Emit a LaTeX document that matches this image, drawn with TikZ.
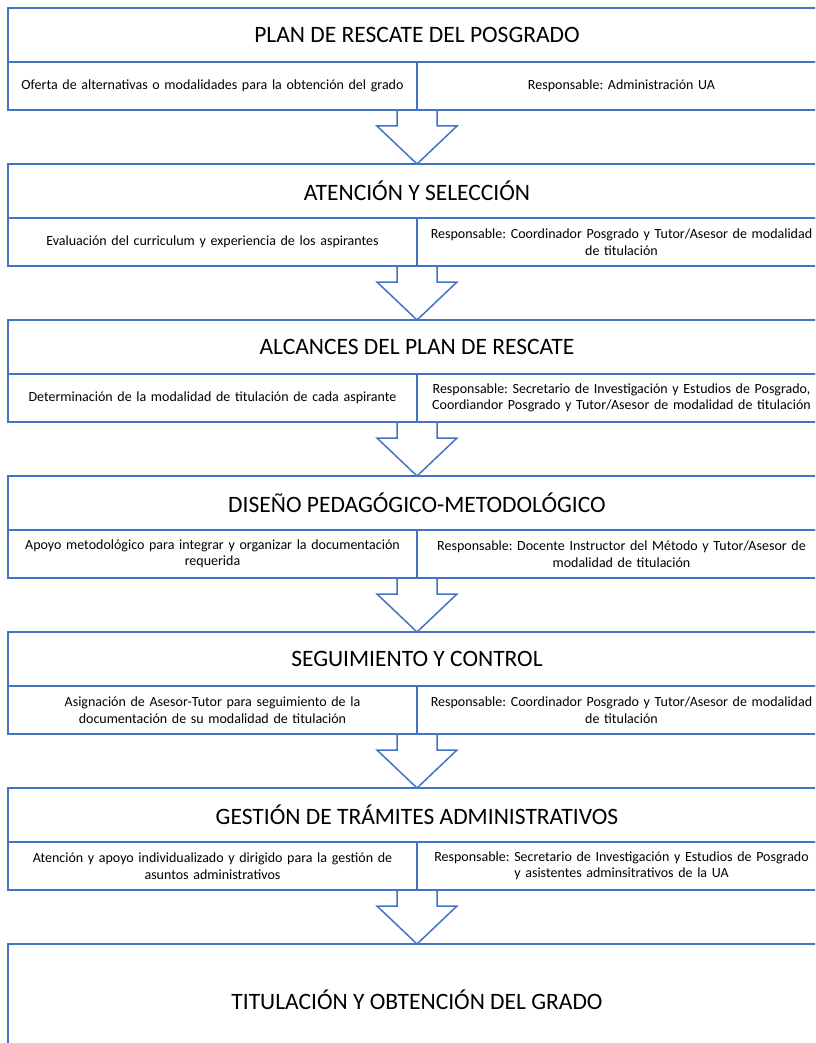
\documentclass[tikz,border=0pt]{standalone}
\usepackage{fontspec}
\setmainfont{Carlito}
\frenchspacing
\usetikzlibrary{calc}
\definecolor{flujo}{HTML}{4472C4}

\begin{document}
\begin{tikzpicture}[x=1pt,y=1pt,
  titulo/.style={rectangle,draw=flujo,line width=1.5pt,outer sep=0pt,inner sep=0pt,
    minimum width=818pt,minimum height=54pt,anchor=north west,
    font=\fontsize{23.5}{28}\selectfont},
  celda/.style={rectangle,draw=flujo,line width=1.5pt,outer sep=0pt,inner sep=0pt,
    minimum width=409pt,minimum height=48pt,text width=396pt,align=center,
    anchor=north west,font=\fontsize{14}{16.5}\selectfont},
  flecha/.style={draw=flujo,line width=1.5pt,line join=miter}]
\clip (0,0) rectangle (815,-1043);

% plan de rescate
\node[titulo] (t1) at (8,-8) {PLAN DE RESCATE DEL POSGRADO};
\node[celda] (l1) at (t1.south west) {Oferta de alternativas o modalidades para la obtención del grado};
\node[celda] (r1) at (l1.north east) {Responsable: Administración UA};

% atencion y seleccion
\node[titulo] (t2) at (8,-164) {ATENCIÓN Y SELECCIÓN};
\node[celda] (l2) at (t2.south west) {Evaluación del curriculum y experiencia de los aspirantes};
\node[celda] (r2) at (l2.north east) {Responsable: Coordinador Posgrado y Tutor/Asesor de modalidad\\ de titulación};

% alcances
\node[titulo] (t3) at (8,-320) {ALCANCES DEL PLAN DE RESCATE};
\node[celda] (l3) at (t3.south west) {Determinación de la modalidad de titulación de cada aspirante};
\node[celda] (r3) at (l3.north east) {Responsable: Secretario de Investigación y Estudios de Posgrado,\\ Coordiandor Posgrado y Tutor/Asesor de modalidad de titulación};

% diseño
\node[titulo] (t4) at (8,-476) {DISEÑO PEDAGÓGICO-METODOLÓGICO};
\node[celda] (l4) at (t4.south west) {Apoyo metodológico para integrar y organizar la documentación\\ requerida};
\node[celda] (r4) at (l4.north east) {Responsable: Docente Instructor del Método y Tutor/Asesor de\\ modalidad de titulación};

% seguimiento
\node[titulo] (t5) at (8,-632) {SEGUIMIENTO Y CONTROL};
\node[celda] (l5) at (t5.south west) {Asignación de Asesor-Tutor para seguimiento de la\\ documentación de su modalidad de titulación};
\node[celda] (r5) at (l5.north east) {Responsable: Coordinador Posgrado y Tutor/Asesor de modalidad\\ de titulación};

% tramites
\node[titulo] (t6) at (8,-788) {GESTIÓN DE TRÁMITES ADMINISTRATIVOS};
\node[celda] (l6) at (t6.south west) {Atención y apoyo individualizado y dirigido para la gestión de\\ asuntos administrativos};
\node[celda] (r6) at (l6.north east) {Responsable: Secretario de Investigación y Estudios de Posgrado\\ y asistentes adminsitrativos de la UA};

% titulacion
\node[titulo,minimum height=112pt] (t7) at (8,-944) {TITULACIÓN Y OBTENCIÓN DEL GRADO};

% flechas
\draw[flecha] ($(l1.south east)+(-20,0)$) -- ++(0,-16) -- ++(-20,0) -- (t2.north) -- ($(l1.south east)+(40,-16)$) -- ++(-20,0) -- ++(0,16);
\draw[flecha] ($(l2.south east)+(-20,0)$) -- ++(0,-16) -- ++(-20,0) -- (t3.north) -- ($(l2.south east)+(40,-16)$) -- ++(-20,0) -- ++(0,16);
\draw[flecha] ($(l3.south east)+(-20,0)$) -- ++(0,-16) -- ++(-20,0) -- (t4.north) -- ($(l3.south east)+(40,-16)$) -- ++(-20,0) -- ++(0,16);
\draw[flecha] ($(l4.south east)+(-20,0)$) -- ++(0,-16) -- ++(-20,0) -- (t5.north) -- ($(l4.south east)+(40,-16)$) -- ++(-20,0) -- ++(0,16);
\draw[flecha] ($(l5.south east)+(-20,0)$) -- ++(0,-16) -- ++(-20,0) -- (t6.north) -- ($(l5.south east)+(40,-16)$) -- ++(-20,0) -- ++(0,16);
\draw[flecha] ($(l6.south east)+(-20,0)$) -- ++(0,-16) -- ++(-20,0) -- (t7.north) -- ($(l6.south east)+(40,-16)$) -- ++(-20,0) -- ++(0,16);
\end{tikzpicture}
\end{document}
